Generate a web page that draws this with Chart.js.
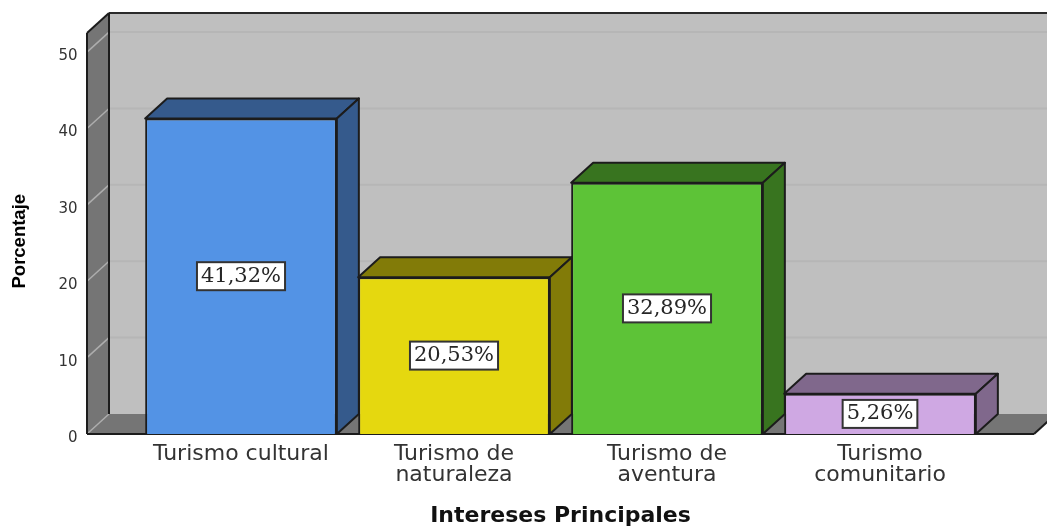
<!DOCTYPE html>
<html>
<head>
<meta charset="utf-8">
<title>Intereses Principales</title>
<script src="https://cdn.jsdelivr.net/npm/chart.js@4"></script>
<style>
  html, body { margin: 0; padding: 0; background: #ffffff; overflow: hidden; }
  canvas { display: block; }
</style>
</head>
<body>
<canvas id="chartIntereses" width="1047" height="526"></canvas>
<script>
  let categorias = [
    "Turismo cultural",
    ["Turismo de", "naturaleza"],
    ["Turismo de", "aventura"],
    ["Turismo", "comunitario"],
  ];
  let porcentajes = [41.32, 20.53, 32.89, 5.26];
  let coloresFrente = ["#5393e5", "#e5d80f", "#5dc337", "#cfa8e3"];
  let coloresLado = ["#355a8c", "#827b08", "#38741f", "#80688c"];
  let marcasY = [0, 10, 20, 30, 40, 50];

  // depth of the fake 3D box and the floor margin beside the first/last bar
  const fondoX = 22;
  const fondoY = 20;
  const margenPiso = 47.5;
  const colorBorde = "#1c1c1c";

  function poligono(ctx, puntos, relleno, borde, grosor) {
    ctx.beginPath();
    puntos.forEach((p, i) => (i ? ctx.lineTo(p[0], p[1]) : ctx.moveTo(p[0], p[1])));
    ctx.closePath();
    if (relleno) {
      ctx.fillStyle = relleno;
      ctx.fill();
    }
    if (borde) {
      ctx.strokeStyle = borde;
      ctx.lineWidth = grosor;
      ctx.stroke();
    }
  }

  function linea(ctx, x1, y1, x2, y2, color, grosor) {
    ctx.beginPath();
    ctx.moveTo(x1, y1);
    ctx.lineTo(x2, y2);
    ctx.strokeStyle = color;
    ctx.lineWidth = grosor;
    ctx.stroke();
  }

  // walls, floor and grid lines
  const cajaFondo = {
    id: "cajaFondo",
    beforeDraw(chart) {
      let ctx = chart.ctx;
      let area = chart.chartArea;
      let escalaY = chart.scales.y;
      let izq = area.left - margenPiso;
      let der = area.right + margenPiso;
      let arriba = area.top;
      let piso = escalaY.getPixelForValue(0);

      ctx.save();
      poligono(ctx, [
        [izq + fondoX, arriba - fondoY],
        [der + fondoX, arriba - fondoY],
        [der + fondoX, piso - fondoY],
        [izq + fondoX, piso - fondoY],
      ], "#bfbfbf");
      poligono(ctx, [
        [izq, arriba],
        [izq + fondoX, arriba - fondoY],
        [izq + fondoX, piso - fondoY],
        [izq, piso],
      ], "#757575");
      poligono(ctx, [
        [izq, piso],
        [izq + fondoX, piso - fondoY],
        [der + fondoX, piso - fondoY],
        [der, piso],
      ], "#757575");

      marcasY.forEach((v) => {
        let y = escalaY.getPixelForValue(v);
        if (v > 0) {
          linea(ctx, izq + fondoX, y - fondoY, der + fondoX, y - fondoY, "#b6b6b6", 2);
        }
        linea(ctx, izq, y, izq + fondoX, y - fondoY, "#adadad", 1.5);
      });

      linea(ctx, izq, arriba, izq + fondoX, arriba - fondoY, colorBorde, 2);
      linea(ctx, izq + fondoX, arriba - fondoY, der + fondoX, arriba - fondoY, "#2a2a2a", 2);
      linea(ctx, izq, arriba, izq, piso, colorBorde, 2);
      linea(ctx, izq + fondoX, arriba - fondoY, izq + fondoX, piso - fondoY, colorBorde, 2);
      linea(ctx, izq, piso, der, piso, colorBorde, 2);
      linea(ctx, der, piso, der + fondoX, piso - fondoY, colorBorde, 2);
      ctx.restore();

      // y labels sit a little below their tick
      if (!chart.$marcasBajadas) {
        escalaY.getLabelItems().forEach((item) => {
          item.options.translation[1] += 4;
        });
        chart.$marcasBajadas = true;
      }
    },
  };

  // top and side faces of each bar, drawn behind the front faces
  const barras3d = {
    id: "barras3d",
    beforeDatasetsDraw(chart) {
      let ctx = chart.ctx;
      ctx.save();
      ctx.lineJoin = "round";
      chart.getDatasetMeta(0).data.forEach((barra, i) => {
        let izq = barra.x - barra.width / 2;
        let der = barra.x + barra.width / 2;
        poligono(ctx, [
          [izq, barra.y],
          [izq + fondoX, barra.y - fondoY],
          [der + fondoX, barra.y - fondoY],
          [der, barra.y],
        ], coloresLado[i], colorBorde, 2);
        poligono(ctx, [
          [der, barra.y],
          [der + fondoX, barra.y - fondoY],
          [der + fondoX, barra.base - fondoY],
          [der, barra.base],
        ], coloresLado[i], colorBorde, 2);
      });
      ctx.restore();
    },
  };

  // value boxes in the middle of each bar
  const etiquetas = {
    id: "etiquetas",
    afterDatasetsDraw(chart) {
      let ctx = chart.ctx;
      ctx.save();
      ctx.font = "21px 'DejaVu Serif'";
      ctx.textAlign = "center";
      ctx.textBaseline = "middle";
      chart.getDatasetMeta(0).data.forEach((barra, i) => {
        let texto = porcentajes[i].toFixed(2).replace(".", ",") + "%";
        let ancho = ctx.measureText(texto).width + 8;
        let alto = 28;
        let centroY = (barra.y + barra.base) / 2;
        ctx.fillStyle = "#ffffff";
        ctx.fillRect(barra.x - ancho / 2, centroY - alto / 2, ancho, alto);
        ctx.strokeStyle = "#333333";
        ctx.lineWidth = 2;
        ctx.strokeRect(barra.x - ancho / 2, centroY - alto / 2, ancho, alto);
        ctx.fillStyle = "#262626";
        ctx.fillText(texto, barra.x, centroY);
      });
      ctx.restore();
    },
  };

  let chartIntereses = new Chart("chartIntereses", {
    type: "bar",
    data: {
      labels: categorias,
      datasets: [
        {
          data: porcentajes,
          backgroundColor: coloresFrente,
          borderColor: colorBorde,
          borderWidth: 2,
          barPercentage: 0.9,
          categoryPercentage: 1,
        },
      ],
    },
    options: {
      responsive: false,
      animation: false,
      layout: { padding: { top: 33, right: 60.5, left: 0, bottom: 0 } },
      plugins: {
        legend: { display: false },
        title: { display: false },
        tooltip: { enabled: false },
      },
      scales: {
        x: {
          afterFit: (escala) => {
            escala.height = 92;
          },
          grid: { display: false, drawTicks: false },
          border: { display: false },
          ticks: {
            color: "#333333",
            font: { family: "'DejaVu Sans'", size: 22, lineHeight: 0.95 },
            padding: 10,
            maxRotation: 0,
            autoSkip: false,
          },
          title: {
            display: true,
            text: "Intereses Principales",
            color: "#111111",
            font: { family: "'DejaVu Sans'", size: 22, weight: "bold" },
            padding: { top: 0, bottom: -3 },
          },
        },
        y: {
          min: 0,
          max: 52.5,
          afterFit: (escala) => {
            escala.width = 134.5;
            escala.paddingTop = 0;
            escala.paddingBottom = 0;
          },
          grid: { display: false, drawTicks: false },
          border: { display: false },
          ticks: {
            stepSize: 10,
            includeBounds: false,
            color: "#333333",
            font: { family: "'DejaVu Sans'", size: 15 },
            padding: 57,
          },
          title: {
            display: true,
            text: "Porcentaje   ",
            color: "#000000",
            font: { family: "'Liberation Sans Narrow', 'Liberation Sans'", size: 18.5, weight: "bold" },
            padding: { top: 9, bottom: 0 },
          },
        },
      },
    },
    plugins: [cajaFondo, barras3d, etiquetas],
  });
</script>
</body>
</html>
